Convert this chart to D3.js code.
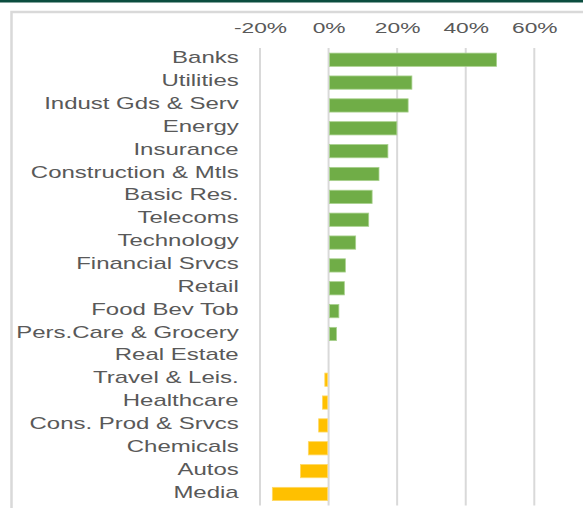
<!DOCTYPE html>
<html>
<head>
<meta charset="utf-8">
<script src="https://cdn.jsdelivr.net/npm/d3@7"></script>
<style>
  body { margin: 0; background: #fff; }
  text { font-family: "Liberation Sans", Arial, sans-serif; fill: #595959; }
</style>
</head>
<body>
<div id="chart"></div>
<script>
// data (percent change)
const categories = ["Banks", "Utilities", "Indust Gds & Serv", "Energy", "Insurance",
  "Construction & Mtls", "Basic Res.", "Telecoms", "Technology", "Financial Srvcs",
  "Retail", "Food Bev Tob", "Pers.Care & Grocery", "Real Estate", "Travel & Leis.",
  "Healthcare", "Cons. Prod & Srvcs", "Chemicals", "Autos", "Media"];
const values = [49.0, 24.3, 23.2, 19.9, 17.3, 14.7, 12.7, 11.7, 7.9, 4.9,
  4.6, 3.0, 2.3, 0.0, -1.1, -1.8, -2.9, -5.9, -8.2, -16.4];
const tickValues = [-0.2, 0, 0.2, 0.4, 0.6];

const data = categories.map((c, i) => ({ name: c, value: values[i] / 100 }));

const W = 583, H = 508;
const stretchX = 1.47;   // tick labels are stretched horizontally in the picture
const stretchY = 1.5;    // so are the category labels

const svg = d3.select("#chart").append("svg")
  .attr("width", W)
  .attr("height", H);

// frame: dark band on top, light grey box
svg.append("rect")
  .attr("x", 0).attr("y", 0).attr("width", W).attr("height", 2.5)
  .attr("fill", "#0b4d3f");
svg.append("path")
  .attr("d", `M11.5,${H} V12 H${W}`)
  .attr("fill", "none")
  .attr("stroke", "#d9d9d9")
  .attr("stroke-width", 2.5);

// scales
const x = d3.scaleLinear().domain([-0.2, 0.6]).range([260, 534.3]);
const y = d3.scaleBand().domain(categories).range([48.3, 505.4])
  .paddingInner(0.42).paddingOuter(0.21);

// gridlines
svg.append("g")
  .selectAll("line")
  .data(tickValues)
  .join("line")
  .attr("x1", d => x(d)).attr("x2", d => x(d))
  .attr("y1", 48).attr("y2", 505.5)
  .attr("stroke", "#d9d9d9")
  .attr("stroke-width", 2);

// bars
svg.append("g")
  .selectAll("rect")
  .data(data)
  .join("rect")
  .attr("x", d => d.value >= 0 ? x(0) + 1 : x(d.value))
  .attr("y", d => y(d.name))
  .attr("width", d => Math.max(0, Math.abs(x(d.value) - x(0)) - 1))
  .attr("height", y.bandwidth())
  .attr("fill", d => d.value >= 0 ? "#70ad47" : "#ffc000")
  .attr("stroke", d => d.value >= 0 ? "#a9d18e" : "#ffd966")
  .attr("stroke-width", d => d.value === 0 ? 0 : 0.8);

// top axis (percent), plain hyphen for minus like the original
const pct = d3.format(".0%");
const xAxis = svg.append("g")
  .attr("transform", "translate(0,48)")
  .call(d3.axisTop(x).tickValues(tickValues)
    .tickFormat(d => pct(d).replace("\u2212", "-"))
    .tickSize(0).tickPadding(15));
xAxis.select(".domain").remove();
xAxis.selectAll("text")
  .attr("transform", `scale(${stretchX},1)`)
  .style("font-size", "15.5px")
  .attr("fill", "#595959");

// category axis
const yAxis = svg.append("g")
  .attr("transform", "translate(260,0)")
  .call(d3.axisLeft(y).tickSize(0).tickPadding(14.2));
yAxis.select(".domain").remove();
yAxis.selectAll("text")
  .attr("transform", `scale(${stretchY},1)`)
  .attr("dy", "0.22em")
  .style("font-size", "16px")
  .attr("fill", "#595959");
</script>
</body>
</html>
